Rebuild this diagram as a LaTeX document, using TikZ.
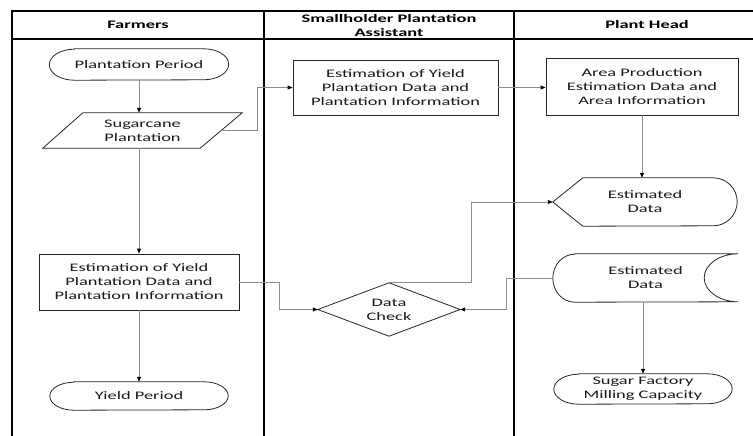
\documentclass[tikz,border=0pt]{standalone}
\usepackage{fontspec}
\setmainfont{Carlito}[FakeStretch=1.6]
\usetikzlibrary{arrows.meta,calc}

\begin{document}
\begin{tikzpicture}[x=1pt,y=-1pt,
  lane/.style={line width=2pt,black,line join=miter},
  txt/.style={font=\fontsize{11.5}{14}\selectfont, align=center, inner sep=0pt, text=black!90},
  hdr/.style={txt, font=\fontsize{11.5}{14}\selectfont\bfseries, text=black},
  outline/.style={draw=black!85, line width=0.8pt},
  flow/.style={draw=black!45, line width=0.8pt,
    -{Triangle[length=5pt,width=4pt,color=black]}},
  procbox/.style={txt, outline},
  holder/.style={txt, draw=none}
]
\useasboundingbox (0,0) rectangle (753,436);

% swimlane frame
\draw[lane] (12,436) -- (12,11) -- (753,11);
\draw[lane] (12,39) -- (753,39);
\draw[lane] (264,11) -- (264,436);
\draw[lane] (514,11) -- (514,436);

% lane headers
\node[hdr] (hFarm) at (138,25) {Farmers};
\node[hdr] (hSpa)  at (389,25) {Smallholder Plantation\\Assistant};
\node[hdr] (hHead) at (647,25) {Plant Head};

% ---- Farmers lane ----
\node[holder, minimum width=179pt, minimum height=31pt] (pp) at (139,64.5) {Plantation Period};
\draw[outline] ($(pp.north west)+(25,0)$) -- ($(pp.north east)+(-25,0)$)
  arc[start angle=90,end angle=-90,x radius=25pt,y radius=15.5pt]
  -- ($(pp.south west)+(25,0)$)
  arc[start angle=270,end angle=90,x radius=25pt,y radius=15.5pt] -- cycle;

\node[holder, minimum width=199pt, minimum height=35pt] (sp) at (142.5,130.5) {Sugarcane\\Plantation};
\draw[outline] ($(sp.north west)+(40,0)$) -- (sp.north east)
  -- ($(sp.south east)+(-42,0)$) -- (sp.south west) -- cycle;
\coordinate (spR) at ($(sp.east)+(-21,0)$);

\node[procbox, minimum width=200pt, minimum height=56pt] (farm) at (139,282)
  {Estimation of Yield\\Plantation Data and\\Plantation Information};

\node[holder, minimum width=178pt, minimum height=28pt] (yield) at (139,396) {Yield Period};
\draw[outline] ($(yield.north west)+(24,0)$) -- ($(yield.north east)+(-24,0)$)
  arc[start angle=90,end angle=-90,x radius=24pt,y radius=14pt]
  -- ($(yield.south west)+(24,0)$)
  arc[start angle=270,end angle=90,x radius=24pt,y radius=14pt] -- cycle;

% ---- Smallholder Plantation Assistant lane ----
\node[procbox, minimum width=205pt, minimum height=55pt] (spa) at (395.5,87.5)
  {Estimation of Yield\\Plantation Data and\\Plantation Information};

\node[holder, minimum width=142pt, minimum height=53pt] (dc) at (389,309.5) {Data\\Check};
\draw[outline] (dc.west) -- (dc.north) -- (dc.east) -- (dc.south) -- cycle;

% ---- Plant Head lane ----
\node[procbox, minimum width=192pt, minimum height=57pt] (area) at (642,86.5)
  {Area Production\\Estimation Data and\\Area Information};

% display shape
\node[holder, minimum width=184pt, minimum height=48pt] (est1) at (645,202) {Estimated\\Data};
\draw[outline] (est1.west) -- ($(est1.north west)+(30,0)$) -- ($(est1.north east)+(-24,0)$)
  arc[start angle=90,end angle=-90,x radius=24pt,y radius=24pt]
  -- ($(est1.south west)+(30,0)$) -- cycle;

% stored data shape
\node[holder, minimum width=185pt, minimum height=48pt] (est2) at (645.5,278) {Estimated\\Data};
\draw[outline] ($(est2.north west)+(22,0)$) -- (est2.north east)
  arc[start angle=90,end angle=270,x radius=34pt,y radius=24pt]
  -- ($(est2.south west)+(22,0)$)
  arc[start angle=270,end angle=90,x radius=22pt,y radius=24pt] -- cycle;

\node[holder, minimum width=178pt, minimum height=30pt] (sugar) at (643,389)
  {Sugar Factory\\Milling Capacity};
\draw[outline] ($(sugar.north west)+(25,0)$) -- ($(sugar.north east)+(-25,0)$)
  arc[start angle=90,end angle=-90,x radius=25pt,y radius=15pt]
  -- ($(sugar.south west)+(25,0)$)
  arc[start angle=270,end angle=90,x radius=25pt,y radius=15pt] -- cycle;

% ---- connectors ----
\draw[flow] (pp.south) -- (pp.south |- sp.north);
\draw[flow] (spR) -- ++(36,0) |- (spa.west);
\draw[flow] (spa.east) -- (spa.east -| area.west);
\draw[flow] (area.south) -- (area.south |- est1.north);
\draw[flow] (pp.south |- sp.south) -- (farm.north);
\draw[flow] (farm.east) -- ++(40,0) |- (dc.west);
\draw[flow] (dc.north) -- ++(82,0) |- (est1.west);
\draw[flow] (est2.west) -- ++(-46,0) |- (dc.east);
\draw[flow] (sugar.north |- est2.south) -- (sugar.north);
\draw[flow] (farm.south) -- (yield.north);
\end{tikzpicture}
\end{document}
